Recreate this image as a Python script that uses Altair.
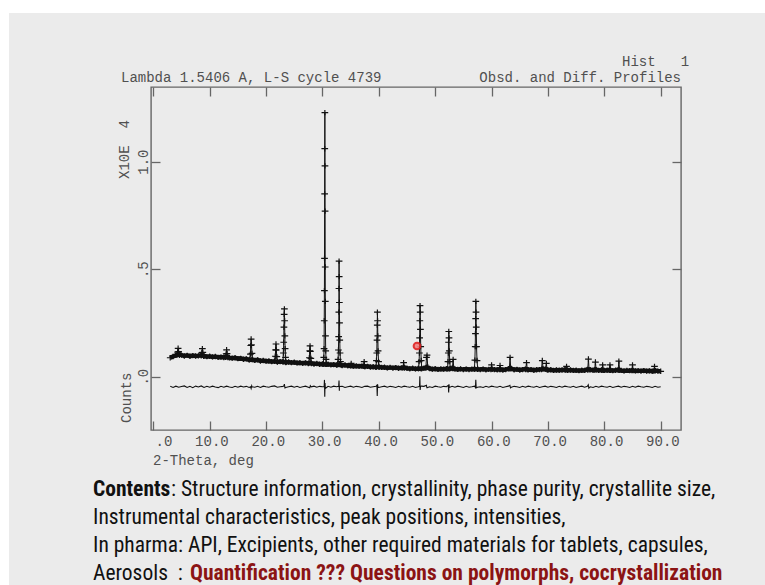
import altair as alt
import numpy as np
import pandas as pd

# ---------------- data ----------------
# observed background profile, 2-theta from 3.0 to 90.0 deg in 0.5 deg steps (units of 1e4 counts)
tth_start, tth_step = 3.0, 0.5
obs_bg = [
    0.088, 0.094, 0.099, 0.104, 0.100, 0.096, 0.099, 0.095, 0.098, 0.096,
    0.097, 0.099, 0.096, 0.093, 0.095, 0.092, 0.094, 0.090, 0.091, 0.089,
    0.092, 0.088, 0.086, 0.088, 0.084, 0.085, 0.081, 0.083, 0.078, 0.080,
    0.076, 0.078, 0.073, 0.075, 0.072, 0.073, 0.070, 0.072, 0.068, 0.070,
    0.069, 0.066, 0.068, 0.065, 0.067, 0.064, 0.065, 0.062, 0.064, 0.061,
    0.063, 0.059, 0.061, 0.058, 0.059, 0.057, 0.058, 0.055, 0.056, 0.054,
    0.056, 0.052, 0.054, 0.051, 0.052, 0.049, 0.050, 0.048, 0.049, 0.047,
    0.048, 0.045, 0.046, 0.044, 0.046, 0.043, 0.044, 0.041, 0.043, 0.040,
    0.042, 0.039, 0.041, 0.043, 0.039, 0.037, 0.039, 0.036, 0.038, 0.037,
    0.039, 0.044, 0.038, 0.035, 0.037, 0.034, 0.036, 0.035, 0.037, 0.036,
    0.039, 0.036, 0.034, 0.036, 0.033, 0.035, 0.033, 0.035, 0.036, 0.034,
    0.033, 0.035, 0.032, 0.034, 0.036, 0.033, 0.032, 0.035, 0.031, 0.033,
    0.037, 0.038, 0.032, 0.034, 0.031, 0.033, 0.035, 0.032, 0.033, 0.030,
    0.032, 0.033, 0.036, 0.035, 0.031, 0.032, 0.029, 0.031, 0.030, 0.031,
    0.032, 0.030, 0.031, 0.029, 0.030, 0.028, 0.030, 0.029, 0.034, 0.032,
    0.030, 0.033, 0.029, 0.031, 0.029, 0.030, 0.031, 0.028, 0.030, 0.032,
    0.029, 0.027, 0.029, 0.028, 0.030, 0.027, 0.028, 0.026, 0.028, 0.026,
    0.027, 0.025, 0.028, 0.026, 0.025,
]
# difference profile (obs - calc, offset) on the same grid
diff_bg = [
    -0.045, -0.050, -0.044, -0.049, -0.046, -0.043, -0.050, -0.045, -0.051, -0.044,
    -0.048, -0.043, -0.050, -0.045, -0.049, -0.044, -0.048, -0.051, -0.045, -0.049,
    -0.044, -0.048, -0.050, -0.045, -0.049, -0.044, -0.048, -0.045, -0.050, -0.047,
    -0.049, -0.045, -0.050, -0.044, -0.047, -0.049, -0.045, -0.043, -0.049, -0.047,
    -0.045, -0.050, -0.047, -0.044, -0.049, -0.045, -0.050, -0.047, -0.044, -0.049,
    -0.047, -0.044, -0.049, -0.045, -0.047, -0.050, -0.045, -0.049, -0.044, -0.047,
    -0.049, -0.045, -0.050, -0.047, -0.044, -0.049, -0.045, -0.047, -0.050, -0.045,
    -0.044, -0.049, -0.047, -0.045, -0.050, -0.047, -0.044, -0.049, -0.045, -0.047,
    -0.050, -0.045, -0.049, -0.044, -0.047, -0.049, -0.045, -0.050, -0.047, -0.044,
    -0.045, -0.049, -0.047, -0.050, -0.044, -0.047, -0.049, -0.045, -0.047, -0.050,
    -0.045, -0.049, -0.044, -0.047, -0.050, -0.045, -0.049, -0.047, -0.044, -0.049,
    -0.047, -0.050, -0.045, -0.049, -0.044, -0.047, -0.049, -0.045, -0.050, -0.047,
    -0.044, -0.049, -0.045, -0.047, -0.050, -0.045, -0.049, -0.044, -0.047, -0.049,
    -0.045, -0.050, -0.047, -0.044, -0.049, -0.045, -0.047, -0.050, -0.045, -0.049,
    -0.044, -0.047, -0.049, -0.045, -0.050, -0.047, -0.044, -0.049, -0.045, -0.047,
    -0.050, -0.045, -0.049, -0.044, -0.047, -0.049, -0.045, -0.050, -0.047, -0.044,
    -0.049, -0.045, -0.047, -0.050, -0.045, -0.049, -0.044, -0.047, -0.049, -0.045,
    -0.047, -0.050, -0.045, -0.049, -0.047,
]
# observed points across each Bragg peak
peak_x = [
    [4.20, 4.32, 4.40, 4.48, 4.62],
    [8.50, 8.62, 8.70, 8.78, 8.92],
    [12.80, 12.92, 13.00, 13.08, 13.22],
    [17.10, 17.22, 17.29, 17.35, 17.41, 17.50, 17.62],
    [21.52, 21.64, 21.70, 21.76, 21.82, 21.90, 22.02],
    [23.00, 23.08, 23.13, 23.17, 23.21, 23.25, 23.29, 23.33, 23.38, 23.45, 23.55],
    [27.58, 27.68, 27.75, 27.80, 27.86, 27.94, 28.05],
    [30.15, 30.24, 30.29, 30.32, 30.35, 30.37, 30.39, 30.41, 30.43, 30.45, 30.47, 30.49, 30.51, 30.54, 30.58, 30.64, 30.75],
    [32.70, 32.78, 32.84, 32.88, 32.91, 32.93, 32.95, 32.97, 33.00, 33.03, 33.07, 33.12, 33.20, 33.32],
    [34.95, 35.10, 35.25],
    [37.25, 37.40, 37.55],
    [39.50, 39.58, 39.64, 39.68, 39.72, 39.75, 39.78, 39.82, 39.87, 39.95, 40.06],
    [44.25, 44.40, 44.55],
    [47.05, 47.14, 47.20, 47.24, 47.28, 47.31, 47.34, 47.38, 47.43, 47.52, 47.62],
    [48.35, 48.45, 48.55, 48.68],
    [52.18, 52.27, 52.33, 52.37, 52.41, 52.45, 52.50, 52.58, 52.68],
    [53.05, 53.18, 53.30],
    [56.95, 57.04, 57.10, 57.14, 57.18, 57.21, 57.24, 57.28, 57.33, 57.42, 57.55],
    [59.88, 60.00, 60.12],
    [61.38, 61.50, 61.62],
    [63.15, 63.28, 63.40],
    [66.05, 66.20, 66.35],
    [68.85, 69.00, 69.15],
    [69.60, 69.72, 69.85],
    [73.15, 73.30, 73.45],
    [77.05, 77.18, 77.30],
    [78.28, 78.42, 78.55],
    [79.58, 79.70, 79.82],
    [80.88, 81.00, 81.12],
    [82.45, 82.58, 82.72],
    [84.88, 85.00, 85.12],
    [88.78, 88.90, 89.02],
]
peak_y = [
    [0.100, 0.114, 0.132, 0.116, 0.099],
    [0.097, 0.112, 0.130, 0.113, 0.095],
    [0.090, 0.106, 0.125, 0.107, 0.089],
    [0.080, 0.105, 0.145, 0.175, 0.148, 0.108, 0.079],
    [0.071, 0.095, 0.125, 0.152, 0.124, 0.093, 0.070],
    [0.069, 0.110, 0.160, 0.230, 0.290, 0.315, 0.260, 0.190, 0.130, 0.090, 0.067],
    [0.062, 0.088, 0.120, 0.143, 0.118, 0.085, 0.061],
    [0.058, 0.090, 0.130, 0.260, 0.400, 0.550, 0.850, 1.060, 1.228, 0.980, 0.770, 0.510, 0.350, 0.190, 0.120, 0.080, 0.057],
    [0.055, 0.080, 0.124, 0.186, 0.300, 0.410, 0.537, 0.465, 0.345, 0.250, 0.170, 0.110, 0.070, 0.054],
    [0.050, 0.062, 0.050],
    [0.048, 0.070, 0.047],
    [0.044, 0.075, 0.110, 0.170, 0.240, 0.300, 0.260, 0.190, 0.120, 0.070, 0.043],
    [0.040, 0.065, 0.040],
    [0.038, 0.070, 0.110, 0.180, 0.260, 0.330, 0.300, 0.220, 0.140, 0.075, 0.038],
    [0.039, 0.090, 0.100, 0.045],
    [0.036, 0.070, 0.110, 0.160, 0.210, 0.180, 0.120, 0.070, 0.038],
    [0.038, 0.080, 0.038],
    [0.035, 0.077, 0.140, 0.200, 0.270, 0.350, 0.300, 0.230, 0.140, 0.075, 0.035],
    [0.033, 0.055, 0.034],
    [0.033, 0.052, 0.033],
    [0.036, 0.090, 0.036],
    [0.033, 0.065, 0.033],
    [0.033, 0.075, 0.036],
    [0.035, 0.062, 0.032],
    [0.031, 0.048, 0.030],
    [0.031, 0.082, 0.032],
    [0.031, 0.068, 0.031],
    [0.030, 0.055, 0.030],
    [0.030, 0.055, 0.030],
    [0.030, 0.072, 0.030],
    [0.028, 0.055, 0.028],
    [0.026, 0.048, 0.027],
]
# spikes of the difference curve at the strong peaks
dspike_x = [17.25, 17.35, 17.45, 23.15, 23.25, 23.35, 27.75, 27.85,
            30.30, 30.36, 30.41, 30.46, 30.52, 32.88, 32.94, 33.00, 33.06,
            39.66, 39.72, 39.78, 39.85, 47.22, 47.28, 47.33, 47.40, 48.45, 48.55,
            52.33, 52.39, 52.45, 57.14, 57.20, 57.27, 63.25, 63.35, 77.15, 77.25]
dspike_y = [-0.047, -0.055, -0.043, -0.043, -0.035, -0.052, -0.052, -0.042,
            -0.047, -0.015, -0.093, -0.030, -0.055, -0.045, -0.018, -0.065, -0.046,
            -0.040, -0.090, -0.035, -0.050, -0.045, 0.002, -0.062, -0.045, -0.040, -0.052,
            -0.040, -0.074, -0.035, -0.050, -0.015, -0.052, -0.040, -0.052, -0.038, -0.053]

x_ticks = [0, 10, 20, 30, 40, 50, 60, 70, 80, 90]
y_ticks = [0.0, 0.5, 1.0]

# ---------------- tables ----------------
tth_grid = np.round(tth_start + tth_step * np.arange(len(obs_bg)), 2)
bg_df = pd.DataFrame({"tth": tth_grid, "obs": obs_bg})
pk_df = pd.DataFrame({"tth": [v for p in peak_x for v in p],
                      "obs": [v for p in peak_y for v in p]})
obs_df = pd.concat([bg_df, pk_df], ignore_index=True)

inside = np.zeros(len(tth_grid), dtype=bool)
for px in peak_x:
    inside |= (tth_grid >= min(px)) & (tth_grid <= max(px))
calc_df = pd.concat([bg_df[~inside], pk_df]).sort_values("tth").reset_index(drop=True)

diff_df = pd.concat([pd.DataFrame({"tth": tth_grid, "diff": diff_bg}),
                     pd.DataFrame({"tth": dspike_x, "diff": dspike_y})]).sort_values("tth").reset_index(drop=True)

# ---------------- styling ----------------
MONO = "Liberation Mono"
GRAY = "#505050"
FRAME = "#666666"
INK = "#111111"
xs = alt.Scale(domain=[-0.41, 93.6], nice=False, zero=False)
ys = alt.Scale(domain=[-0.248, 1.347], nice=False, zero=False)

def tick_axis(orient, values):
    return alt.Axis(orient=orient, values=values, offset=-9, tickSize=9, ticks=True,
                    labels=False, domain=False, grid=False, title=None,
                    tickColor=FRAME, tickWidth=1.3)

x_bottom_ticks = tick_axis("bottom", x_ticks)
x_top_ticks = tick_axis("top", x_ticks)
y_left_ticks = tick_axis("left", y_ticks)
y_right_ticks = tick_axis("right", y_ticks)

x_labels = alt.Axis(orient="bottom", values=x_ticks, ticks=False, tickSize=0, domain=False, grid=False,
                    title=None, labelExpr="datum.value == 0 ? '.0' : format(datum.value, '.1f')",
                    labelAlign="right", tickOffset=18.5, labelBaseline="middle", labelPadding=11,
                    labelFont=MONO, labelFontSize=14, labelColor=GRAY, labelOverlap=False,
                    labelFlush=False)
y_labels = alt.Axis(orient="left", values=y_ticks, ticks=False, tickSize=0, domain=False, grid=False,
                    title=None,
                    labelExpr="datum.value == 0 ? '.0' : datum.value == 0.5 ? '.5' : format(datum.value, '.1f')",
                    labelAngle=270, labelAlign="center", labelBaseline="middle", labelPadding=8,
                    labelFont=MONO, labelFontSize=14, labelColor=GRAY, labelOverlap=False,
                    labelFlush=False)

cross = "M-1,0L1,0M0,-0.8L0,0.8"

band = alt.Chart(bg_df).mark_line(color=INK, strokeWidth=4.5).encode(
    x=alt.X("tth:Q", scale=xs, axis=None), y=alt.Y("obs:Q", scale=ys, axis=None))

calc = alt.Chart(calc_df).mark_line(color=INK, strokeWidth=1).encode(
    x=alt.X("tth:Q", scale=xs, axis=x_top_ticks), y=alt.Y("obs:Q", scale=ys, axis=y_right_ticks))

points = alt.Chart(obs_df).mark_point(shape=cross, size=45, filled=False, color=INK,
                                      strokeWidth=1.2, opacity=1).encode(
    x=alt.X("tth:Q", scale=xs, axis=x_bottom_ticks), y=alt.Y("obs:Q", scale=ys, axis=y_left_ticks))

diff = alt.Chart(diff_df).mark_line(color=INK, strokeWidth=1.1).encode(
    x=alt.X("tth:Q", scale=xs, axis=x_labels), y=alt.Y("diff:Q", scale=ys, axis=y_labels))

one = alt.Data(values=[{}])

def txt(text, x, y, **kw):
    params = dict(font=MONO, fontSize=14, color=GRAY, align="left", baseline="middle")
    params.update(kw)
    return alt.Chart(one).mark_text(text=text, x=x, y=y, **params)

NB = "\u00a0"
SANS = "Roboto Condensed, DejaVu Sans Condensed, Liberation Sans Narrow, Arial Narrow, sans-serif"
FS = 21.5
annot = [
    # white slide margin
    alt.Chart(one).mark_rect(color="white", x=-151, x2=614, y=-87, y2=-74),
    alt.Chart(one).mark_rect(color="white", x=-151, x2=-142, y=-87, y2=498),
    txt("Hist" + NB * 3 + "1", 471, -25),
    txt("Lambda 1.5406 A, L-S cycle 4739", -30, -9),
    txt("Obsd. and Diff. Profiles", 530, -9, align="right"),
    txt("X10E" + NB * 2 + "4", -26, 92, angle=270),
    txt("Counts", -24, 336, angle=270),
    txt("2-Theta, deg", 2, 374),
    txt("Contents", -58, 409, font=SANS, fontSize=FS, fontWeight="bold", color=INK, baseline="alphabetic"),
    txt(": Structure information, crystallinity, phase purity, crystallite size,", 20, 409,
        font=SANS, fontSize=FS, color=INK, baseline="alphabetic"),
    txt("Instrumental characteristics, peak positions, intensities,", -58, 437,
        font=SANS, fontSize=FS, color=INK, baseline="alphabetic"),
    txt("In pharma: API, Excipients, other required materials for tablets, capsules,", -58, 465,
        font=SANS, fontSize=FS, color=INK, baseline="alphabetic"),
    txt("Aerosols" + NB * 2 + ": ", -58, 493, font=SANS, fontSize=FS, color=INK, baseline="alphabetic"),
    txt("Quantification ??? Questions on polymorphs, cocrystallization", 39, 493,
        font=SANS, fontSize=FS, fontWeight="bold", color="#8b1414", baseline="alphabetic"),
    # presenter's laser pointer
    alt.Chart(one).mark_point(x=266, y=259, shape="circle", size=45, filled=True,
                              color="#f08080", stroke="#e02020", strokeWidth=2, opacity=0.9),
]

chart = alt.layer(band, calc, points, diff, *annot).resolve_axis(
    x="independent", y="independent"
).properties(
    width=530, height=343,
    padding={"left": 151, "top": 87, "right": 84, "bottom": 155},
    autosize=alt.AutoSizeParams(type="none"),
).configure(background="#ebebeb").configure_view(stroke=FRAME, strokeWidth=1.4)

chart.save("out.html", embed_options={"renderer": "svg", "actions": False})
